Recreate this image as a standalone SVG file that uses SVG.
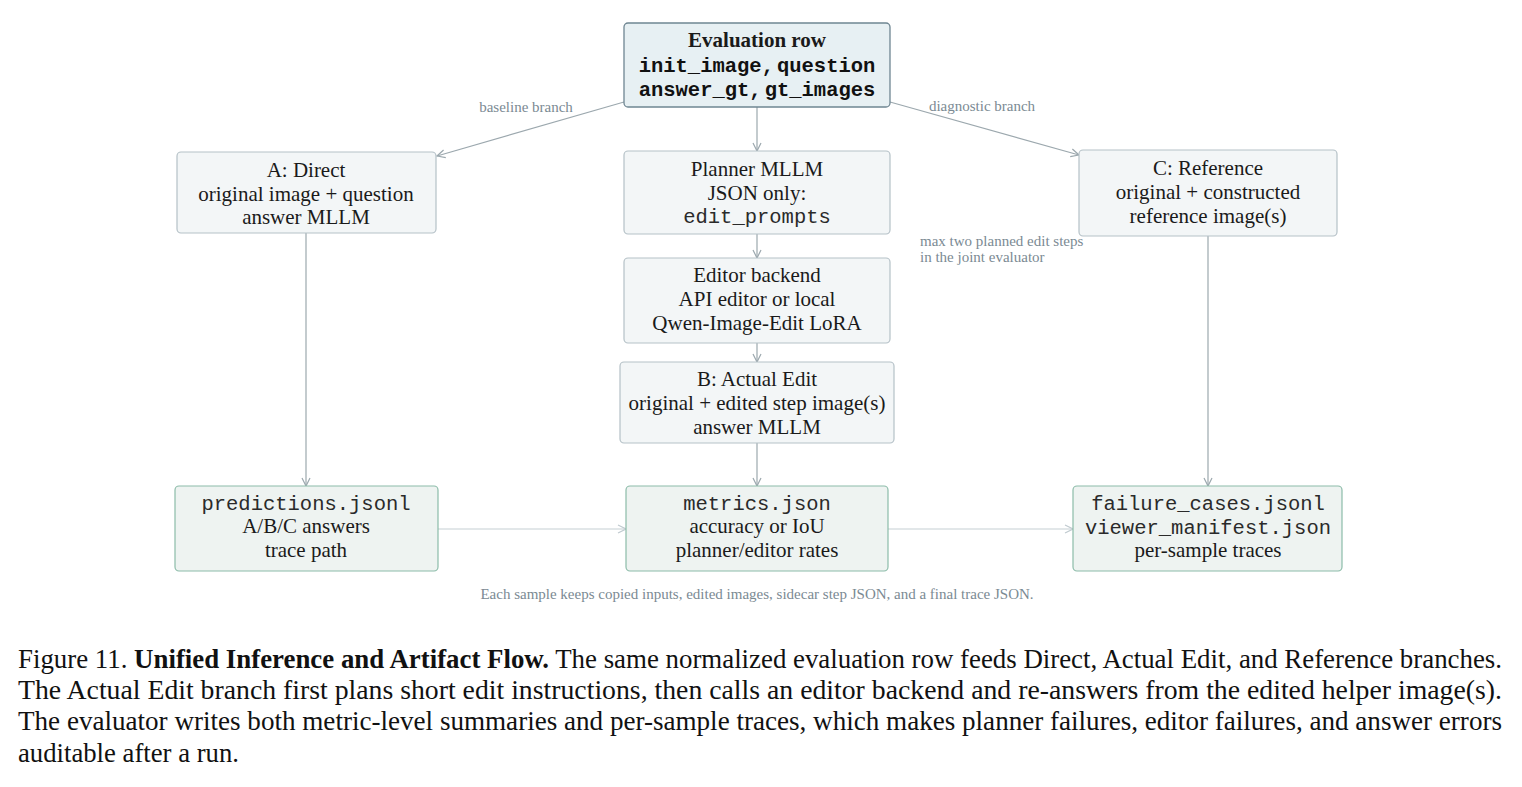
<svg xmlns="http://www.w3.org/2000/svg" width="1522" height="787" viewBox="0 0 1522 787">
<style>
.bg{fill:#ffffff}
.top{fill:#e7f0f3;stroke:#6f8692;stroke-width:1.3}
.mid{fill:#f3f6f7;stroke:#b5c1c7;stroke-width:1.2}
.out{fill:#eef3f1;stroke:#8cbca9;stroke-width:1.2}
.t{font-family:"Liberation Serif","Times New Roman",serif;font-size:21px;fill:#1a1a1a;text-anchor:middle}
.b{font-weight:bold}
.m{font-family:"Liberation Mono","Courier New",monospace;font-size:20.5px;fill:#2a2a2a;text-anchor:middle}
.mb{font-family:"Liberation Mono","Courier New",monospace;font-size:20.5px;font-weight:bold;fill:#111;text-anchor:middle}
.lbl{font-family:"Liberation Serif","Times New Roman",serif;font-size:15px;fill:#7b8a93}
.c{stroke:#9ca8ae;stroke-width:1.2;fill:none;marker-end:url(#ah)}
.c2{stroke:#c6cfd3;stroke-width:1.2;fill:none;marker-end:url(#ah2)}
.cap{font-family:"Liberation Serif","Times New Roman",serif;font-size:26.5px;fill:#111}
</style>
<defs>
<marker id="ah" viewBox="0 0 10 10" refX="9" refY="5" markerWidth="10" markerHeight="10" markerUnits="userSpaceOnUse" orient="auto">
<path d="M1,1 L9,5 L1,9" fill="none" stroke="#9ca8ae" stroke-width="1.2"/>
</marker>
<marker id="ah2" viewBox="0 0 10 10" refX="9" refY="5" markerWidth="10" markerHeight="10" markerUnits="userSpaceOnUse" orient="auto">
<path d="M1,1 L9,5 L1,9" fill="none" stroke="#c0cacf" stroke-width="1.2"/>
</marker>
</defs>
<rect class="bg" x="0" y="0" width="1522" height="787"/>

<g id="connectors">
<line class="c" x1="624" y1="102" x2="437" y2="156"/>
<line class="c" x1="890" y1="102" x2="1079" y2="155"/>
<line class="c" x1="757" y1="107" x2="757" y2="151"/>
<line class="c" x1="757" y1="234" x2="757" y2="258"/>
<line class="c" x1="757" y1="343" x2="757" y2="362"/>
<line class="c" x1="757" y1="443" x2="757" y2="486"/>
<line class="c" x1="306" y1="233" x2="306" y2="486"/>
<line class="c" x1="1208" y1="236" x2="1208" y2="486"/>
<line class="c2" x1="438" y1="529" x2="626" y2="529"/>
<line class="c2" x1="888" y1="529" x2="1073" y2="529"/>
<text class="lbl" x="526" y="112" text-anchor="middle">baseline branch</text>
<text class="lbl" x="982" y="111" text-anchor="middle">diagnostic branch</text>
</g>

<g id="eval-row">
<rect class="top" x="624" y="23" width="266" height="84" rx="4"/>
<text class="t b" x="757" y="47">Evaluation row</text>
<text class="mb" x="757" y="72">init_image,<tspan dx="3">question</tspan></text>
<text class="mb" x="757" y="96">answer_gt,<tspan dx="3">gt_images</tspan></text>
</g>

<g id="direct">
<rect class="mid" x="177" y="152" width="259" height="81" rx="4"/>
<text class="t" x="306" y="177">A: Direct</text>
<text class="t" x="306" y="201">original image + question</text>
<text class="t" x="306" y="224">answer MLLM</text>
</g>

<g id="planner">
<rect class="mid" x="624" y="151" width="266" height="83" rx="4"/>
<text class="t" x="757" y="176">Planner MLLM</text>
<text class="t" x="757" y="200">JSON only:</text>
<text class="m" x="757" y="223">edit_prompts</text>
</g>

<g id="reference">
<rect class="mid" x="1079" y="150" width="258" height="86" rx="4"/>
<text class="t" x="1208" y="175">C: Reference</text>
<text class="t" x="1208" y="199">original + constructed</text>
<text class="t" x="1208" y="223">reference image(s)</text>
</g>

<g id="note">
<text class="lbl" x="920" y="246">max two planned edit steps</text>
<text class="lbl" x="920" y="262">in the joint evaluator</text>
</g>

<g id="editor">
<rect class="mid" x="624" y="258" width="266" height="85" rx="4"/>
<text class="t" x="757" y="282">Editor backend</text>
<text class="t" x="757" y="306">API editor or local</text>
<text class="t" x="757" y="330">Qwen-Image-Edit LoRA</text>
</g>

<g id="actual-edit">
<rect class="mid" x="620" y="362" width="274" height="81" rx="4"/>
<text class="t" x="757" y="386">B: Actual Edit</text>
<text class="t" x="757" y="410">original + edited step image(s)</text>
<text class="t" x="757" y="434">answer MLLM</text>
</g>

<g id="predictions">
<rect class="out" x="175" y="486" width="263" height="85" rx="4"/>
<text class="m" x="306" y="510">predictions.jsonl</text>
<text class="t" x="306" y="533">A/B/C answers</text>
<text class="t" x="306" y="557">trace path</text>
</g>

<g id="metrics">
<rect class="out" x="626" y="486" width="262" height="85" rx="4"/>
<text class="m" x="757" y="510">metrics.json</text>
<text class="t" x="757" y="533">accuracy or IoU</text>
<text class="t" x="757" y="557">planner/editor rates</text>
</g>

<g id="failures">
<rect class="out" x="1073" y="486" width="269" height="85" rx="4"/>
<text class="m" x="1208" y="510">failure_cases.jsonl</text>
<text class="m" x="1208" y="534">viewer_manifest.json</text>
<text class="t" x="1208" y="557">per-sample traces</text>
</g>

<text class="lbl" x="757" y="599" text-anchor="middle">Each sample keeps copied inputs, edited images, sidecar step JSON, and a final trace JSON.</text>

<g id="caption">
<text class="cap" x="18" y="668" textLength="1484" lengthAdjust="spacingAndGlyphs">Figure 11. <tspan font-weight="bold">Unified Inference and Artifact Flow.</tspan> The same normalized evaluation row feeds Direct, Actual Edit, and Reference branches.</text>
<text class="cap" x="18" y="699" textLength="1484" lengthAdjust="spacingAndGlyphs">The Actual Edit branch first plans short edit instructions, then calls an editor backend and re-answers from the edited helper image(s).</text>
<text class="cap" x="18" y="730" textLength="1484" lengthAdjust="spacingAndGlyphs">The evaluator writes both metric-level summaries and per-sample traces, which makes planner failures, editor failures, and answer errors</text>
<text class="cap" x="18" y="762" textLength="221" lengthAdjust="spacingAndGlyphs">auditable after a run.</text>
</g>
</svg>
